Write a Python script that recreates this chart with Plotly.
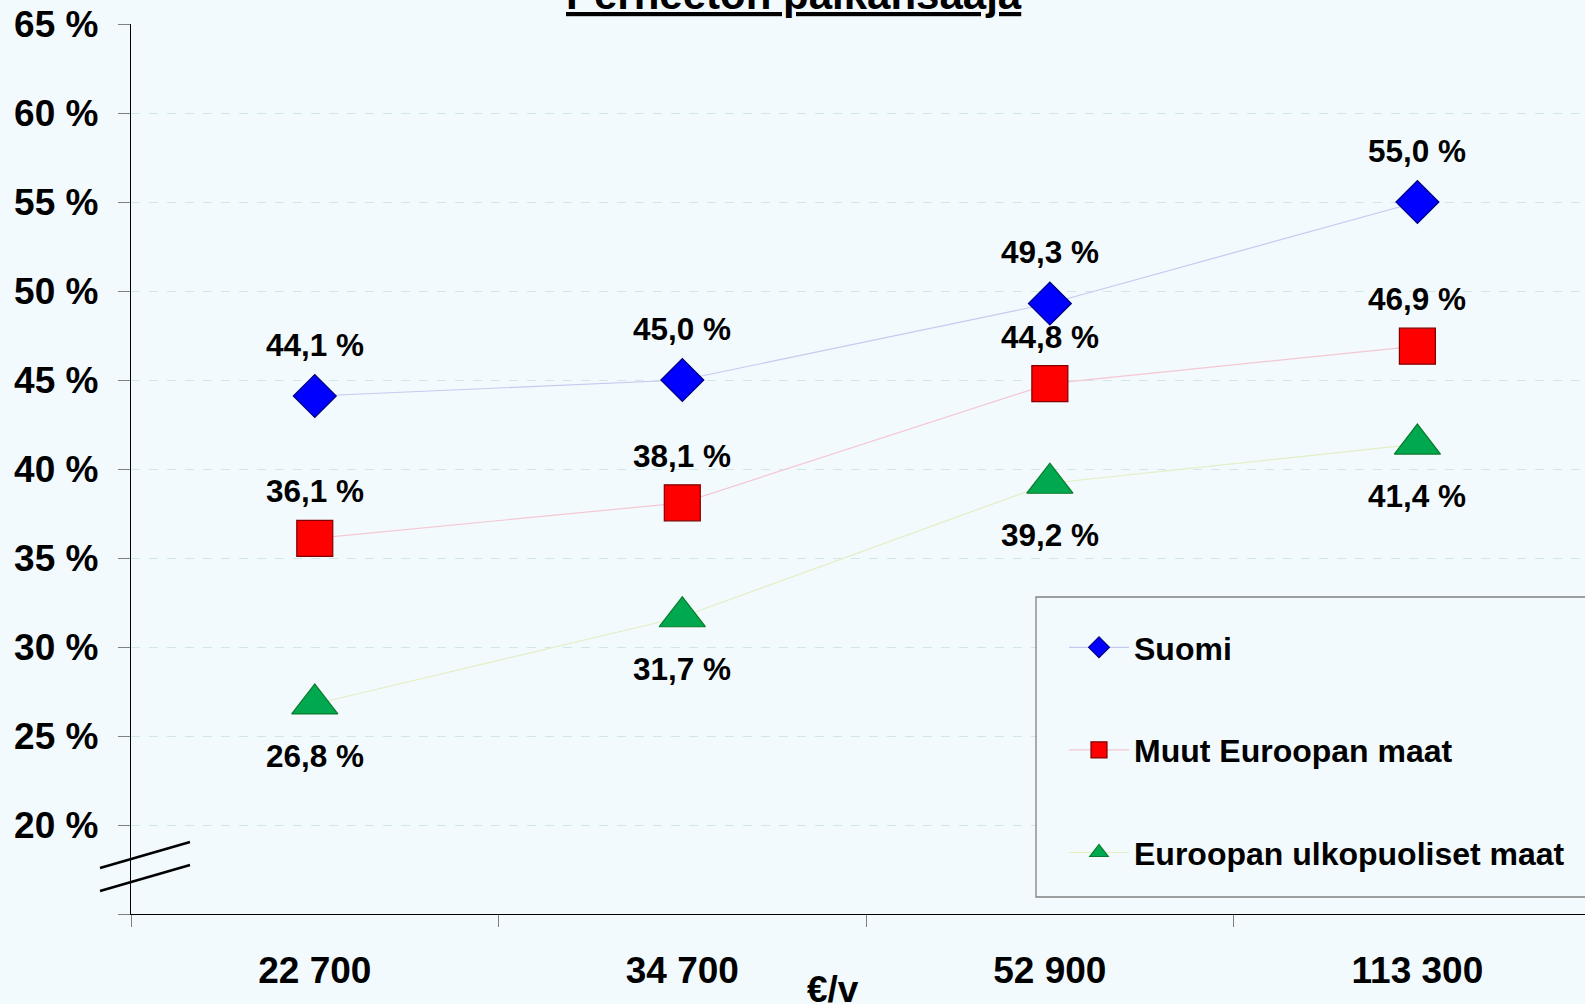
import plotly.graph_objects as go

categories = ["22 700", "34 700", "52 900", "113 300"]
suomi = [44.1, 45.0, 49.3, 55.0]
muut_eurooppa = [36.1, 38.1, 44.8, 46.9]
ulkopuoliset = [26.8, 31.7, 39.2, 41.4]
series_names = ["Suomi", "Muut Euroopan maat", "Euroopan ulkopuoliset maat"]
y_tick_vals = [15, 20, 25, 30, 35, 40, 45, 50, 55, 60, 65]
y_tick_text = ["", "20 %", "25 %", "30 %", "35 %", "40 %", "45 %", "50 %", "55 %", "60 %", "65 %"]
title_text = "Perheetön palkansaaja"
x_title = "€/v"

BG = "#F2FAFD"
FONT = "Liberation Sans, Arial, sans-serif"

# plot area in pixels
L, R, T, B = 131, 1585, 24, 914
W, H = R - L, B - T


def px_x(p):
    return (p - L) / W


def px_y(p):
    return (B - p) / H


styles = [
    dict(symbol="diamond", size=33, color="#0000FF", line=dict(color="#000080", width=1.2),
         linecolor="#C6CAF0", shift=51),
    dict(symbol="square", size=36, color="#FF0000", line=dict(color="#800000", width=1.2),
         linecolor="#F5C6D2", shift=47),
    dict(symbol="triangle-up", size=40, color="#00A84F", line=dict(color="#0A7A2A", width=1.2),
         linecolor="#E2EFC4", shift=-52),
]

fig = go.Figure()
for name, vals, st in zip(series_names, [suomi, muut_eurooppa, ulkopuoliset], styles):
    fig.add_trace(
        go.Scatter(
            x=categories,
            y=vals,
            name=name,
            legendgroup=name,
            mode="lines+markers",
            line=dict(color=st["linecolor"], width=1.2),
            marker=dict(symbol=st["symbol"], size=st["size"], color=st["color"], line=st["line"]),
            cliponaxis=False,
        )
    )
    for c, v in zip(categories, vals):
        fig.add_annotation(
            x=c, y=v, text=f"{v:.1f} %".replace(".", ","), showarrow=False,
            yshift=st["shift"], yanchor="middle",
            font=dict(family=FONT, size=31.5, color="black", weight="bold"),
        )

# legend frame
fig.add_shape(
    type="rect", xref="paper", yref="paper",
    x0=px_x(1036), x1=px_x(1600), y0=px_y(897), y1=px_y(597),
    line=dict(color="#808080", width=1.3), fillcolor=BG, layer="above",
)

# axis break marks
for dy in (0, 23):
    fig.add_shape(
        type="line", xref="paper", yref="paper",
        x0=px_x(100), y0=px_y(868 + dy), x1=px_x(190), y1=px_y(842 + dy),
        line=dict(color="black", width=2.5),
    )

fig.add_annotation(
    xref="paper", yref="paper", x=px_x(794), y=1, yanchor="bottom", yshift=4,
    text=f"<u>{title_text}</u>", showarrow=False,
    font=dict(family=FONT, size=42, color="black", weight="bold"),
)
fig.add_annotation(
    xref="paper", yref="paper", x=px_x(833), y=px_y(967), yanchor="top",
    text=x_title, showarrow=False,
    font=dict(family=FONT, size=37, color="black", weight="bold"),
)

fig.update_xaxes(
    type="category", range=[-0.5, 3.456],
    showline=True, linecolor="black", linewidth=1.3,
    ticks="outside", tickson="boundaries", ticklen=12, tickcolor="#808080",
    showgrid=False, zeroline=False, ticklabelstandoff=23,
    tickfont=dict(family=FONT, size=37, color="black", weight="bold"),
)
fig.update_yaxes(
    range=[15, 65], tickvals=y_tick_vals, ticktext=y_tick_text,
    showline=True, linecolor="black", linewidth=1.3,
    ticks="outside", ticklen=12, tickcolor="#808080",
    showgrid=True, gridcolor="#CFE8E7", griddash="dash", gridwidth=1.4,
    zeroline=False, ticklabelstandoff=12,
    tickfont=dict(family=FONT, size=37, color="black", weight="bold"),
)
fig.update_layout(
    width=1585, height=1004,
    margin=dict(l=L, r=0, t=T, b=1004 - B),
    paper_bgcolor=BG, plot_bgcolor=BG,
    legend=dict(
        x=px_x(1064), y=px_y(620), xanchor="left", yanchor="top",
        bgcolor="rgba(0,0,0,0)", borderwidth=0, tracegroupgap=58, itemwidth=60,
        font=dict(family=FONT, size=32, color="black", weight="bold"),
    ),
    showlegend=True,
)
fig.write_html("out.html", config={"displayModeBar": False},
               post_script="document.body.style.margin='0';")
